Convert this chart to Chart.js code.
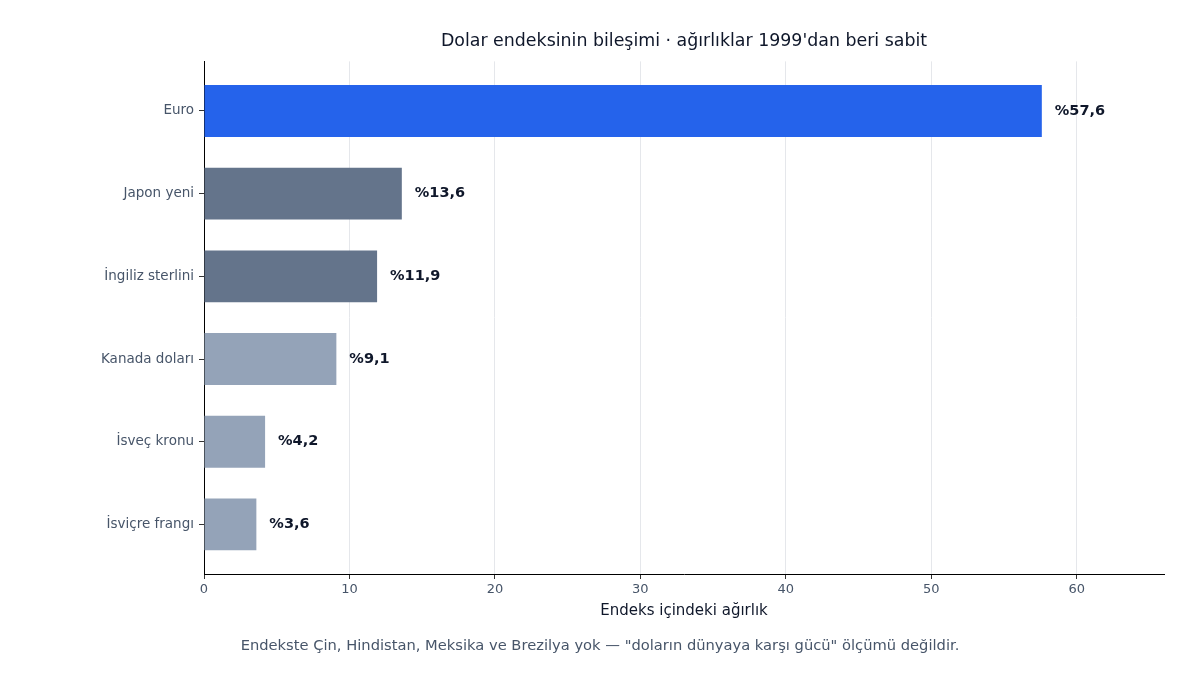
<!DOCTYPE html>
<html>
<head>
<meta charset="utf-8">
<script src="https://cdn.jsdelivr.net/npm/chart.js@4"></script>
<style>
  html,body{margin:0;padding:0;background:#fff;}
  #wrap{width:1200px;height:675px;position:relative;}
</style>
</head>
<body>
<div id="wrap"><canvas id="c"></canvas></div>
<script>
'use strict';

// ── DATA ────────────────────────────────────────────────
const categories = ['Euro', 'Japon yeni', 'İngiliz sterlini', 'Kanada doları', 'İsveç kronu', 'İsviçre frangı'];
const weights    = [57.6, 13.6, 11.9, 9.1, 4.2, 3.6];
const barColors  = ['#2563eb', '#64748b', '#64748b', '#94a3b8', '#94a3b8', '#94a3b8'];
const xTicks     = [0, 10, 20, 30, 40, 50, 60];

const TITLE = "Dolar endeksinin bileşimi · ağırlıklar 1999'dan beri sabit";
const X_TITLE = 'Endeks içindeki ağırlık';
const NOTE = 'Endekste Çin, Hindistan, Meksika ve Brezilya yok — "doların dünyaya karşı gücü" ölçümü değildir.';

const FONT = "'DejaVu Sans', sans-serif";

// ── LABELS + FOOTNOTE PLUGIN ─────────────────────────────
const extras = {
  id: 'extras',
  afterDatasetsDraw(chart){
    const {ctx} = chart;
    const meta = chart.getDatasetMeta(0);
    ctx.save();
    ctx.font = `bold 14.5px ${FONT}`;
    ctx.fillStyle = '#0f172a';
    ctx.textBaseline = 'middle';
    ctx.textAlign = 'left';
    meta.data.forEach((bar, i) => {
      ctx.fillText('%' + weights[i].toFixed(1).replace('.', ','), bar.x + 13, bar.y);
    });
    ctx.font = `14.7px ${FONT}`;
    ctx.fillStyle = '#475569';
    ctx.textAlign = 'center';
    ctx.fillText(NOTE, 600, 646);
    ctx.restore();
  }
};

new Chart(document.getElementById('c').getContext('2d'), {
  type: 'bar',
  data: {
    datasets: [{
      data: weights.map((w, i) => ({x: w, y: i})),
      backgroundColor: barColors,
      borderWidth: 0,
      categoryPercentage: 1,
      barPercentage: 0.627
    }]
  },
  options: {
    indexAxis: 'y',
    responsive: true,
    maintainAspectRatio: false,
    animation: false,
    layout: { padding: { left: 0, right: 36, top: 0, bottom: 0 } },
    plugins: {
      legend: { display: false },
      tooltip: { enabled: false },
      title: {
        display: true,
        text: TITLE,
        fullSize: false,
        color: '#0f172a',
        font: { family: FONT, size: 17.4, weight: 'normal', lineHeight: 1.2 },
        padding: { top: 31, bottom: 9.5 }
      }
    },
    scales: {
      x: {
        type: 'linear',
        min: 0, max: 66,
        afterBuildTicks: s => { s.ticks = xTicks.map(v => ({value: v})); },
        afterFit: s => { s.height = 101; },
        ticks: { color: '#475569', font: { family: FONT, size: 13 }, padding: 3 },
        grid: { color: '#e5e7eb', lineWidth: 1, tickColor: '#333', tickLength: 5 },
        border: { display: true, color: '#000', width: 1 },
        title: {
          display: true, text: X_TITLE, color: '#0f172a',
          font: { family: FONT, size: 15, lineHeight: 1.2 },
          padding: { top: 0, bottom: 55 }
        }
      },
      y: {
        type: 'linear',
        reverse: true,
        offset: false,
        min: -0.6, max: 5.6,
        afterBuildTicks: s => { s.ticks = categories.map((_, i) => ({value: i})); },
        afterFit: s => { s.width = 204; },
        ticks: { color: '#475569', font: { family: FONT, size: 13.5 }, padding: 5, callback: v => categories[v] },
        grid: { offset: false, drawOnChartArea: false, drawTicks: true, tickLength: 5, tickColor: '#333' },
        border: { display: true, color: '#000', width: 1 }
      }
    }
  },
  plugins: [extras]
});
</script>
</body>
</html>
